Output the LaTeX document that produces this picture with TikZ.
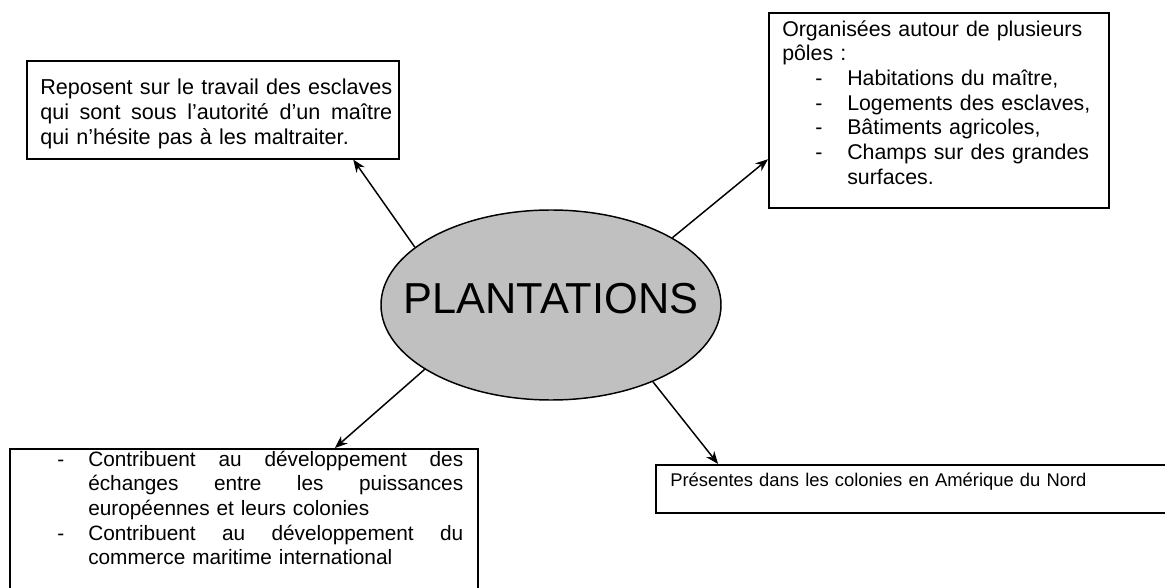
\documentclass[tikz,border=0pt]{standalone}
\usepackage{fontspec}
\setmainfont{Liberation Sans}
\usetikzlibrary{calc,arrows.meta,shapes.geometric}
\newlength\px \setlength\px{0.75pt}
\definecolor{ellgray}{RGB}{192,192,192}
\begin{document}
\begin{tikzpicture}[x=0.75pt,y=-0.75pt,
  box/.style={draw, line width=1.2pt, inner sep=0pt, rectangle, anchor=north west},
  txt/.style={inner sep=0pt, anchor=north west, align=left},
  conn/.style={line width=1.1pt, -{Stealth[length=9.5pt,width=7.5pt]}}]
\useasboundingbox (0,0) rectangle (1165,588);
\clip (0,0) rectangle (1165,588);
\fill[white] (0,0) rectangle (1165,588);

% boxes
\node[box, minimum width=372\px, minimum height=98\px] (tl) at (26,60) {};
\node[box, minimum width=340\px, minimum height=195\px] (tr) at (768,12) {};
\node[box, minimum width=468\px, minimum height=150\px] (bl) at (9,448) {};
\node[box, minimum width=520\px, minimum height=48\px] (br) at (655,464) {};

% texts
\node[txt, text width=370\px, font=\fontsize{16.2}{18.5}\selectfont] (tlT) at (40,77.2) {\strut\makebox[352\px][l]{Reposent\hfill sur\hfill le\hfill travail\hfill des\hfill esclaves}\\
\makebox[352\px][l]{qui\hfill sont\hfill sous\hfill l’autorité\hfill d’un\hfill maître}\\
qui n’hésite pas à les maltraiter.};

\node[txt, text width=330\px, font=\fontsize{16}{18.5}\selectfont] (trT) at (782,18.7) {\strut Organisées autour de plusieurs\\
pôles :\\
\hspace*{33\px}\makebox[32\px][l]{-}Habitations du maître,\\
\hspace*{33\px}\makebox[32\px][l]{-}Logements des esclaves,\\
\hspace*{33\px}\makebox[32\px][l]{-}Bâtiments agricoles,\\
\hspace*{33\px}\makebox[32\px][l]{-}Champs sur des grandes\\
\hspace*{65\px}surfaces.};

\node[txt, text width=420\px, font=\fontsize{15.6}{18.5}\selectfont] (blT) at (57,448.7) {\strut\makebox[31\px][l]{-}\makebox[375\px][l]{Contribuent\hfill au\hfill développement\hfill des}\\
\hspace*{31\px}\makebox[375\px][l]{échanges\hfill entre\hfill les\hfill puissances}\\
\hspace*{31\px}européennes et leurs colonies\\
\makebox[31\px][l]{-}\makebox[375\px][l]{Contribuent\hfill au\hfill développement\hfill du}\\
\hspace*{31\px}commerce maritime international};

\node[txt, text width=480\px, font=\fontsize{13.8}{18.5}\selectfont] (brT) at (670,468.7) {\strut Présentes dans les colonies en Amérique du Nord};

% central ellipse
\node[ellipse, draw, fill=ellgray, line width=1.1pt, minimum width=340\px, minimum height=190\px,
  inner sep=0pt, font=\fontsize{32.5}{36}\selectfont, text height=30\px, text depth=13.4\px]
  (pl) at (551,305) {\makebox[0pt]{PLANTATIONS}};

% connectors
\draw[conn] (pl.157.2) -- ($(tl.south west)!0.876!(tl.south east)$);
\draw[conn] (pl.29.5) -- ($(tr.north west)!0.749!(tr.south west)$);
\draw[conn] (pl.207.5) -- ($(bl.north west)!0.694!(bl.north east)$);
\draw[conn] (pl.323.1) -- ($(br.north west)!0.121!(br.north east)$);
\end{tikzpicture}
\end{document}
